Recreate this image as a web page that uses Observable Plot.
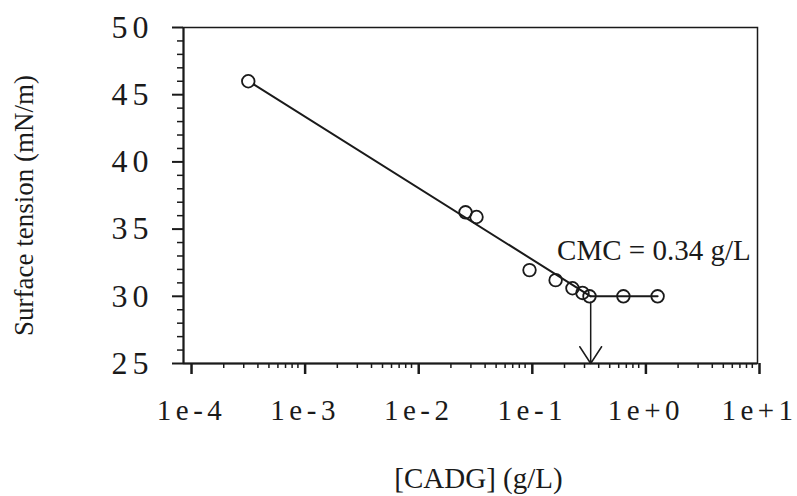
<!DOCTYPE html>
<html><head><meta charset="utf-8">
<script src="https://cdn.jsdelivr.net/npm/d3@7"></script>
<script src="https://cdn.jsdelivr.net/npm/@observablehq/plot@0.6"></script>
<style>
body{margin:0;background:#fff}
g[aria-label="y-axis tick label"] text{letter-spacing:5px}
g[aria-label="x-axis tick label"] text{letter-spacing:4.5px}
</style>
</head><body><div id="chart"></div>
<script>
// Data
const concentration = [3.29e-4, 0.0269, 0.0336, 0.0984, 0.167, 0.235, 0.288, 0.332, 0.66, 1.32];
const surfaceTension = [46.0, 36.25, 35.9, 31.95, 31.2, 30.6, 30.25, 30.0, 30.0, 30.0];
const fitX = [3.7e-4, 0.34];
const fitY = [45.75, 30.0];
const plateauX = [0.34, 1.32];
const plateauY = [30.0, 30.0];
const cmcValue = 0.34;
const cmcLabel = "CMC = 0.34 g/L";
const cmcLabelX = 0.172;
const cmcLabelY = 33.4;
const xTicks = [1e-4, 1e-3, 1e-2, 1e-1, 1, 10];
const xTickLabels = ["1e-4", "1e-3", "1e-2", "1e-1", "1e+0", "1e+1"];
const yTicks = [25, 30, 35, 40, 45, 50];
const yTickLabels = ["25", "30", "35", "40", "45", "50"];
const xTitle = "[CADG] (g/L)";
const yTitle = "Surface tension (mN/m)";

const xMinor = [];
for (const d of [1e-4, 1e-3, 1e-2, 1e-1, 1]) for (let k = 2; k <= 9; k++) xMinor.push(d * k);
const yMinor = d3.range(26, 50).filter(v => v % 5 !== 0);

const points = concentration.map((c, i) => ({c, s: surfaceTension[i]}));
const fit = fitX.map((c, i) => ({c, s: fitY[i]}));
const plateau = plateauX.map((c, i) => ({c, s: plateauY[i]}));

const ink = "#1a1a1a";
const font = "Liberation Serif, Times New Roman, serif";

const chart = Plot.plot({
  width: 797,
  height: 496,
  marginLeft: 183,
  marginRight: 40,
  marginTop: 27,
  marginBottom: 133,
  style: {fontFamily: font, color: ink, background: "#fff"},
  x: {type: "log", domain: [8.85e-5, 10]},
  y: {domain: [25, 50]},
  marks: [
    Plot.frame({stroke: ink, strokeWidth: 1.5}),
    Plot.axisY({ticks: yMinor, tickSize: 6, text: null, label: null, stroke: ink, strokeWidth: 1.5}),
    Plot.axisY({ticks: yTicks, tickSize: 11, tickPadding: 19, label: null,
      tickFormat: d => yTickLabels[yTicks.indexOf(d)], fontSize: 32, stroke: ink, strokeWidth: 2,
      fill: ink}),
    Plot.axisX({ticks: xMinor, tickSize: 5, text: null, label: null, stroke: ink, strokeWidth: 1.5}),
    Plot.axisX({ticks: xTicks, tickSize: 11, tickPadding: 25, label: null,
      tickFormat: d => xTickLabels[xTicks.indexOf(d)], fontSize: 29, stroke: ink, strokeWidth: 2.5,
      fill: ink, dx: 2}),
    Plot.ruleX([8.85e-5], {stroke: ink, strokeWidth: 2}),
    Plot.ruleY([25], {stroke: ink, strokeWidth: 2}),
    Plot.line(fit, {x: "c", y: "s", stroke: ink, strokeWidth: 2}),
    Plot.line(plateau, {x: "c", y: "s", stroke: ink, strokeWidth: 2}),
    Plot.arrow([{x: cmcValue}], {x1: "x", x2: "x", y1: () => 30, y2: () => 25,
      stroke: ink, strokeWidth: 1.5, headLength: 20, headAngle: 66, insetStart: 6}),
    Plot.dot(points, {x: "c", y: "s", r: 6.3, stroke: ink, strokeWidth: 1.8, fill: "none"}),
    Plot.text([cmcLabel], {x: () => cmcLabelX, y: () => cmcLabelY, text: d => d,
      textAnchor: "start", fontSize: 29, fill: ink}),
    Plot.text([xTitle], {frameAnchor: "bottom", textAnchor: "middle", lineAnchor: "middle",
      dx: 8, dy: 115, text: d => d, fontSize: 29, fill: ink}),
    Plot.text([yTitle], {frameAnchor: "left", textAnchor: "middle", lineAnchor: "middle",
      dx: -159, dy: 10, rotate: -90, text: d => d, fontSize: 27, fill: ink})
  ]
});
document.getElementById("chart").appendChild(chart);
</script>
</body></html>
